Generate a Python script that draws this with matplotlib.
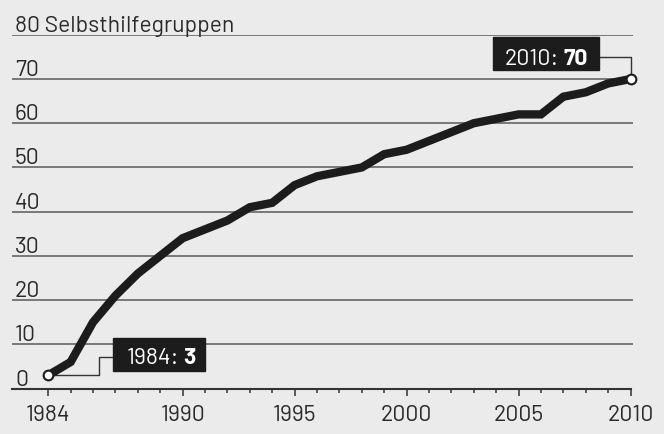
import matplotlib.pyplot as plt
from matplotlib.patches import Rectangle

# Selbsthilfegruppen pro Jahr
jahre = list(range(1984, 2011))
gruppen = [3, 6, 15, 21, 26, 30, 34, 36, 38, 41, 42, 46, 48, 49, 50,
           53, 54, 56, 58, 60, 61, 62, 62, 66, 67, 69, 70]

y_werte = [0, 10, 20, 30, 40, 50, 60, 70]
x_labels = [1984, 1990, 1995, 2000, 2005, 2010]
titel = 'Selbsthilfegruppen'

papier = '#ebebeb'
dunkel = '#1c1c1c'
grau = '#5a5a5a'
schrift = '#2a2a2a'
fs = 16.5

plt.rcParams['font.family'] = ['Barlow', 'DejaVu Sans']

fig = plt.figure(figsize=(6.64, 4.34), dpi=100, facecolor=papier)
ax = fig.add_axes([0.018, 0.1048, 0.935, 0.815])
ax.set_facecolor(papier)

ax.set_xlim(1982.38, 2010.1)
ax.set_ylim(0, 80)

# Gitterlinien
ax.set_yticks(y_werte[1:] + [80])
ax.yaxis.grid(True, color=grau, lw=1.1)
ax.tick_params(axis='y', length=0, labelleft=False)
ax.set_axisbelow(True)

for s in ['top', 'right', 'left']:
    ax.spines[s].set_visible(False)
ax.spines['bottom'].set_color('#333333')
ax.spines['bottom'].set_linewidth(1.5)
ax.spines['bottom'].set_bounds(1982.38, 2010)

ax.set_xticks(x_labels)
ax.set_xticklabels([str(j) for j in x_labels])
ax.set_xticks(jahre, minor=True)
ax.tick_params(axis='x', which='major', length=5, width=1.1, color='#333333',
               labelsize=fs, pad=7, labelcolor=schrift)
ax.tick_params(axis='x', which='minor', length=3, width=1.1, color='#333333')

# y-Beschriftungen ueber den Linien
for v in y_werte:
    ax.annotate(str(v), xy=(1982.38, v), xytext=(3, 3), textcoords='offset pixels',
                fontsize=fs, color=schrift, va='baseline', ha='left')
ax.annotate('80 ' + titel, xy=(1982.38, 80), xytext=(3, 3), textcoords='offset pixels',
            fontsize=fs, color=schrift, va='baseline', ha='left')

# Linie
ax.plot(jahre, gruppen, color=dunkel, lw=6, solid_joinstyle='miter',
        solid_capstyle='butt', clip_on=False, zorder=4)
ax.plot([jahre[0], jahre[-1]], [gruppen[0], gruppen[-1]], 'o', ms=7,
        mfc='white', mec=dunkel, mew=1.5, clip_on=False, zorder=6)

# Label 1984
x0, y0 = jahre[0], gruppen[0]
ax.plot([x0, x0 + 2.28, x0 + 2.28, x0 + 2.9], [y0, y0, y0 + 4.2, y0 + 4.2],
        color='#333333', lw=1, zorder=3)
ax.add_patch(Rectangle((x0 + 2.89, y0 + 0.97), 4.13, 7.45, color=dunkel, zorder=5))
ax.text(x0 + 3.5, y0 + 2.55, f'{x0}:', color='white', fontsize=fs,
        va='baseline', ha='left', zorder=6)
ax.text(x0 + 6.58, y0 + 2.55, str(y0), color='white', fontsize=fs,
        fontweight='bold', va='baseline', ha='right', zorder=6)

# Label 2010
x1, y1 = jahre[-1], gruppen[-1]
ax.plot([x1 - 1.45, x1, x1], [y1 + 4.9, y1 + 4.9, y1], color='#333333',
        lw=1, clip_on=False, zorder=3)
ax.add_patch(Rectangle((x1 - 6.16, y1 + 2.1), 4.74, 7.4, color=dunkel, zorder=5))
ax.text(x1 - 5.61, y1 + 3.1, f'{x1}:', color='white', fontsize=fs,
        va='baseline', ha='left', zorder=6)
ax.text(x1 - 1.9, y1 + 3.1, str(y1), color='white', fontsize=fs,
        fontweight='bold', va='baseline', ha='right', zorder=6)

fig.savefig('out.png', dpi=100, facecolor=papier)
